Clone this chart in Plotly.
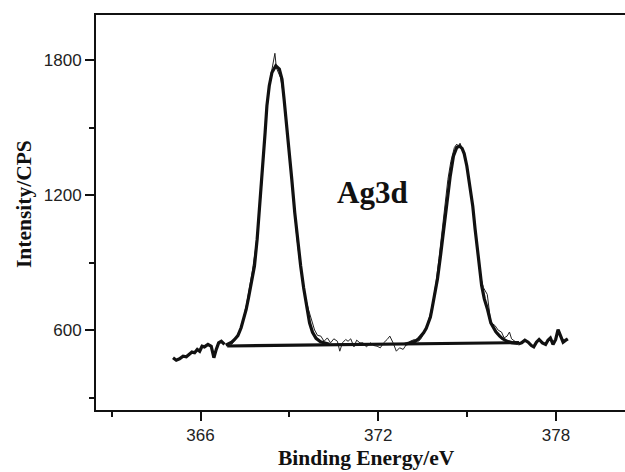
import plotly.graph_objects as go

# ---- data ----
# thick noisy background on the low-energy side
left_x = [365.07, 365.18, 365.29, 365.41, 365.52, 365.63, 365.71, 365.80, 365.89, 365.97,
          366.05, 366.13, 366.25, 366.36, 366.45, 366.53, 366.61, 366.70, 366.81]
left_y = [479, 468, 474, 486, 483, 493, 504, 501, 516, 508,
          530, 527, 538, 530, 479, 516, 545, 552, 538]

# thick noisy background on the high-energy side
right_x = [376.72, 376.84, 376.95, 377.06, 377.17, 377.25, 377.34, 377.43, 377.54, 377.65,
           377.73, 377.81, 377.90, 377.99, 378.07, 378.15, 378.24, 378.33, 378.40]
right_y = [540, 545, 557, 548, 533, 527, 548, 560, 545, 538,
           557, 567, 538, 560, 604, 575, 548, 557, 563]

# raw spectrum (thin line)
raw_x = [366.92, 367.05, 367.15, 367.27, 367.35, 367.45, 367.55, 367.65, 367.75, 367.85,
         367.95, 368.05, 368.15, 368.25, 368.35, 368.45, 368.51, 368.56, 368.62, 368.70,
         368.78, 368.86, 368.95, 369.05, 369.15, 369.25, 369.35, 369.45, 369.55, 369.65,
         369.75, 369.85, 369.95, 370.06, 370.17, 370.28, 370.39, 370.50, 370.62, 370.70,
         370.79, 370.90, 370.98, 371.07, 371.18, 371.27, 371.38, 371.49, 371.60, 371.74,
         371.85, 371.96, 372.07, 372.18, 372.30, 372.39, 372.50, 372.61, 372.72, 372.84,
         372.95, 373.08, 373.22, 373.36, 373.45, 373.55, 373.65, 373.75, 373.85, 373.95,
         374.05, 374.15, 374.25, 374.35, 374.45, 374.57, 374.65, 374.71, 374.76, 374.83,
         374.90, 374.99, 375.08, 375.17, 375.26, 375.36, 375.46, 375.55, 375.62, 375.68,
         375.80, 375.94, 376.05, 376.16, 376.25, 376.35, 376.43, 376.50, 376.58, 376.72]
raw_y = [530, 538, 556, 582, 612, 655, 715, 785, 865, 955,
         1065, 1225, 1415, 1595, 1715, 1790, 1830, 1765, 1748, 1722,
         1662, 1572, 1452, 1300, 1150, 1012, 902, 812, 742, 690,
         640, 602, 578, 575, 552, 567, 545, 563, 552, 508,
         545, 560, 552, 563, 527, 557, 545, 545, 527, 545,
         533, 530, 523, 545, 560, 575, 545, 508, 523, 516,
         538, 552, 560, 552, 565, 590, 625, 670, 730, 812,
         920, 1040, 1150, 1270, 1350, 1412, 1427, 1418, 1431, 1408,
         1385, 1325, 1250, 1170, 1080, 940, 835, 790, 775, 760,
         634, 622, 601, 593, 567, 575, 593, 563, 555, 542]

# fitted components (thick lines)
fit1_x = [366.85, 366.95, 367.05, 367.15, 367.26, 367.37, 367.46, 367.54, 367.62, 367.70,
          367.82, 367.91, 367.98, 368.06, 368.13, 368.18, 368.24, 368.32, 368.41, 368.54,
          368.66, 368.75, 368.82, 368.90, 368.99, 369.08, 369.18, 369.27, 369.38, 369.48,
          369.58, 369.68, 369.78, 369.90, 370.05, 370.20, 370.35]
fit1_y = [535, 540, 548, 560, 577, 612, 650, 693, 745, 797,
          886, 1004, 1123, 1241, 1360, 1479, 1597, 1686, 1745, 1775,
          1760, 1715, 1627, 1523, 1404, 1271, 1123, 1004, 886, 790,
          700, 634, 592, 565, 550, 543, 539]

fit2_x = [372.90, 373.10, 373.25, 373.36, 373.45, 373.53, 373.62, 373.70, 373.76, 373.81,
          373.90, 374.00, 374.10, 374.20, 374.32, 374.43, 374.54, 374.65, 374.74, 374.83,
          374.90, 374.99, 375.10, 375.19, 375.27, 375.38, 375.49, 375.58, 375.69, 375.80,
          375.97, 376.10, 376.19, 376.35, 376.50, 376.72]
fit2_y = [539, 545, 552, 563, 575, 590, 610, 634, 660, 693,
          750, 830, 930, 1049, 1168, 1286, 1375, 1412, 1418, 1408,
          1385, 1330, 1241, 1152, 1049, 920, 800, 740, 693, 634,
          594, 575, 564, 552, 546, 542]

base_x = [366.90, 376.75]
base_y = [531, 546]

x_ticks = [366, 372, 378]
y_ticks = [600, 1200, 1800]

thick = dict(color="#111111", width=3.2)
thin = dict(color="#222222", width=1)

fig = go.Figure()
fig.add_trace(go.Scatter(x=raw_x, y=raw_y, mode="lines", line=thin))
fig.add_trace(go.Scatter(x=left_x, y=left_y, mode="lines", line=thick))
fig.add_trace(go.Scatter(x=right_x, y=right_y, mode="lines", line=thick))
fig.add_trace(go.Scatter(x=base_x, y=base_y, mode="lines", line=thick))
fig.add_trace(go.Scatter(x=fit1_x, y=fit1_y, mode="lines", line=thick))
fig.add_trace(go.Scatter(x=fit2_x, y=fit2_y, mode="lines", line=thick))

tickfont = dict(family="Liberation Sans, Arial, sans-serif", size=17, color="#222222")
titlefont = dict(family="Liberation Serif, Times New Roman, serif", size=21.5, color="#111111")

fig.update_layout(
    width=625, height=472,
    margin=dict(l=96, r=0, t=15, b=62),
    paper_bgcolor="white", plot_bgcolor="white",
    showlegend=False,
    xaxis=dict(range=[362.47, 380.33], showgrid=False, zeroline=False,
               showline=True, linecolor="#111111", linewidth=2, mirror=True,
               ticks="outside", ticklen=9, tickwidth=1.5, tickcolor="#111111",
               tickvals=x_ticks, ticktext=[str(v) for v in x_ticks], tickfont=tickfont,
               minor=dict(ticks="outside", ticklen=5, tickwidth=1.5, tickcolor="#111111",
                          tick0=363, dtick=3, showgrid=False)),
    yaxis=dict(range=[247, 2000], showgrid=False, zeroline=False,
               showline=True, linecolor="#111111", linewidth=2, mirror=False,
               ticks="outside", ticklen=9, tickwidth=1.5, tickcolor="#111111",
               tickvals=y_ticks, ticktext=[str(v) for v in y_ticks], tickfont=tickfont,
               minor=dict(ticks="outside", ticklen=5, tickwidth=1.5, tickcolor="#111111",
                          tick0=0, dtick=300, showgrid=False)),
    annotations=[
        dict(text="<b>Ag3d</b>", x=371.8, y=1213, xref="x", yref="y", showarrow=False,
             font=dict(family="Liberation Serif, Times New Roman, serif", size=31, color="#111111"),
             xanchor="center", yanchor="middle"),
        dict(text="<b>Intensity/CPS</b>", x=(24 - 96) / 529, y=(410 - 204) / 395,
             xref="paper", yref="paper", showarrow=False, textangle=-90,
             font=titlefont, xanchor="center", yanchor="middle"),
        dict(text="<b>Binding Energy/eV</b>", x=(366.5 - 96) / 529, y=(410 - 458) / 395,
             xref="paper", yref="paper", showarrow=False,
             font=titlefont, xanchor="center", yanchor="middle"),
    ],
)

fig.write_html("out.html",
               config={"displayModeBar": False},
               post_script="document.body.style.margin='0';document.body.style.overflow='hidden';")
